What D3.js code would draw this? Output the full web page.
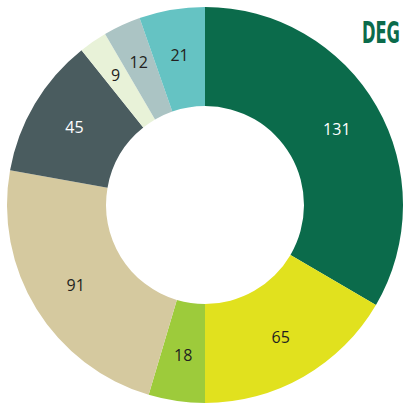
<!DOCTYPE html>
<html>
<head>
<meta charset="utf-8">
<script src="https://cdn.jsdelivr.net/npm/d3@7"></script>
<style>
  html, body { margin: 0; padding: 0; background: #fff; }
  svg { display: block; }
</style>
</head>
<body>
<svg id="chart" width="403" height="406"></svg>
<script>
// Segment values, clockwise from 12 o'clock
const values = [131, 65, 18, 91, 45, 9, 12, 21];
const colors = ["#0b6b4b", "#e1e11e", "#9dcb3b", "#d5c99f", "#4a5c5f", "#e8f2d8", "#abc4c4", "#65c3c3"];
const labelColors = ["#ffffff", "#231f20", "#231f20", "#231f20", "#ffffff", "#231f20", "#231f20", "#231f20"];
const title = "DEG";

const svg = d3.select("#chart");
const cx = 205, cy = 205;
const outerR = 198, innerR = 99;

const pie = d3.pie().sort(null).value(d => d)
  .startAngle(0).endAngle(2 * Math.PI);
const arcs = pie(values);

const arc = d3.arc().innerRadius(innerR).outerRadius(outerR);
// narrow slices get their labels pushed slightly further out
const labelRadius = d => (d.endAngle - d.startAngle) < 0.25 ? 158 : 152;

const g = svg.append("g").attr("transform", `translate(${cx},${cy})`);

g.selectAll("path.slice")
  .data(arcs)
  .join("path")
  .attr("class", "slice")
  .attr("d", arc)
  .attr("fill", (d, i) => colors[i]);

g.selectAll("text.value")
  .data(arcs)
  .join("text")
  .attr("class", "value")
  .attr("transform", d => {
    const r = labelRadius(d);
    const c = d3.arc().innerRadius(r).outerRadius(r).centroid(d);
    return `translate(${c})`;
  })
  .attr("text-anchor", "middle")
  .attr("dominant-baseline", "central")
  .attr("font-family", "'Open Sans', sans-serif")
  .attr("font-size", 16)
  .attr("fill", (d, i) => labelColors[i])
  .text(d => d.data);

// Condensed title: squeeze a bold face horizontally to the target width
const titleWidth = 38;
const titleText = svg.append("text")
  .attr("font-family", "'DejaVu Sans', sans-serif")
  .attr("font-weight", "bold")
  .attr("font-size", 30)
  .attr("fill", "#0b6b4b")
  .text(title);
const natural = titleText.node().getComputedTextLength();
titleText.attr("transform", `translate(362,43) scale(${titleWidth / natural},1)`);
</script>
</body>
</html>
